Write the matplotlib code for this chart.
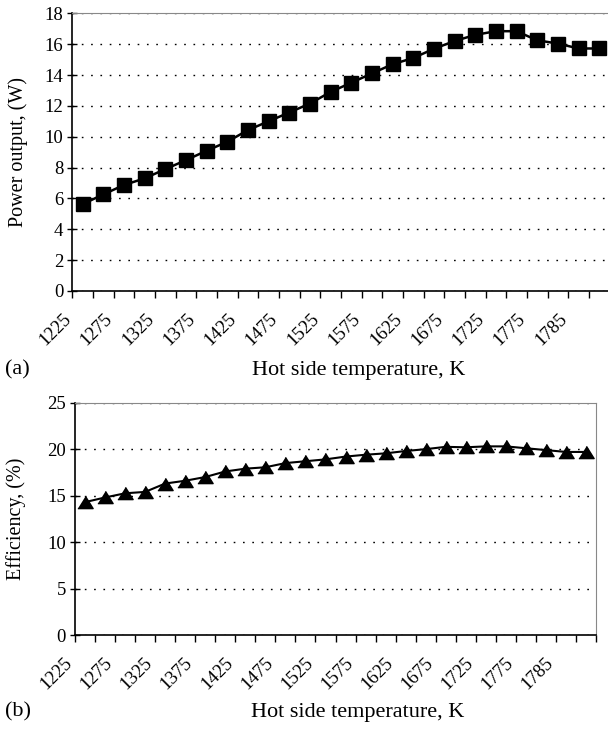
import matplotlib
matplotlib.use("Agg")
import matplotlib.pyplot as plt
import matplotlib.transforms as mtransforms
import numpy as np

plt.rcParams['font.family'] = ['Liberation Serif', 'DejaVu Serif']

# Data
temps = [1225, 1250, 1275, 1300, 1325, 1350, 1375, 1400, 1425, 1450, 1475, 1500, 1525,
         1550, 1575, 1600, 1625, 1650, 1675, 1700, 1725, 1750, 1775, 1780, 1785, 1790]
tick_labels = ["1225", "1275", "1325", "1375", "1425", "1475", "1525", "1575",
               "1625", "1675", "1725", "1775", "1785"]
power = [5.63, 6.26, 6.87, 7.3, 7.9, 8.48, 9.09, 9.67, 10.43, 11.0, 11.57, 12.15, 12.9,
         13.5, 14.1, 14.7, 15.1, 15.7, 16.2, 16.6, 16.84, 16.84, 16.25, 16.04, 15.72, 15.72]
efficiency = [14.3, 14.8, 15.25, 15.4, 16.3, 16.6, 17.0, 17.6, 17.9, 18.05, 18.5, 18.7, 18.9,
              19.2, 19.4, 19.55, 19.8, 20.0, 20.25, 20.2, 20.3, 20.3, 20.1, 19.9, 19.7, 19.7]

W, H = 608, 729
fig = plt.figure(figsize=(W / 100, H / 100), dpi=100)


def px_axes(left, right, top, bottom):
    return fig.add_axes([left / W, (H - bottom) / H, (right - left) / W, (bottom - top) / H])


ax1 = px_axes(72.3, 609.5, 13.3, 291)
ax2 = px_axes(75, 596, 402.7, 635)

n = len(temps)
x = np.arange(n)
tri = [(-1, -0.8), (1, -0.8), (0, 0.8)]


def style(ax, ymax, ystep, ylabel, ylab_x, label_dx):
    ax.set_xlim(-0.5, n - 0.5)
    ax.set_ylim(0, ymax)
    ax.set_yticks(np.arange(0, ymax + 0.001, ystep))
    ax.yaxis.grid(True, color='black', linestyle=(0, (1.2, 5.5)), linewidth=1.0)
    ax.set_axisbelow(True)
    ax.set_xticks(np.arange(-0.5, n, 1.0))
    ax.set_xticklabels([])
    ax.set_xticks(np.arange(0, n, 2), minor=True)
    ax.set_xticklabels(tick_labels, minor=True, rotation=45, ha='right', va='top',
                       fontsize=13.5)
    ax.tick_params(axis='x', which='major', direction='out', length=5, width=1)
    ax.tick_params(axis='x', which='minor', length=0, pad=14)
    ax.tick_params(axis='y', direction='inout', length=7, width=1, labelsize=13.5, pad=3)
    for lbl in ax.get_xticklabels(minor=True):
        lbl.set_transform(lbl.get_transform() +
                          mtransforms.ScaledTranslation(label_dx / 100, 0, fig.dpi_scale_trans))
    for s in ['left', 'bottom']:
        ax.spines[s].set_color('black')
        ax.spines[s].set_linewidth(1.2)
    for s in ['top', 'right']:
        ax.spines[s].set_color('#888888')
        ax.spines[s].set_linestyle((0, (1, 1)))
        ax.spines[s].set_linewidth(0.8)
    ax.set_ylabel(ylabel, fontsize=14.5)
    ax.yaxis.set_label_coords(ylab_x, 0.5)


ax1.plot(x, power, color='black', linewidth=1.8, marker='s', markersize=10,
         markerfacecolor='black', markeredgecolor='black', clip_on=False, zorder=3)
style(ax1, 18, 2, "Power output, (W)", (28 - 72.3) / 537.2, -8)

ax2.plot(x, efficiency, color='black', linewidth=1.5, marker=tri, markersize=11,
         markerfacecolor='black', markeredgecolor='black', clip_on=False, zorder=3)
style(ax2, 25, 5, "Efficiency, (%)", (26 - 75) / 521, -9)

fig.text(359 / W, 1 - 370 / H, "Hot side temperature, K", ha='center', va='center', fontsize=16)
fig.text(5 / W, 1 - 370 / H, "(a)", ha='left', va='center', fontsize=16)
fig.text(358 / W, 1 - 712 / H, "Hot side temperature, K", ha='center', va='center', fontsize=16)
fig.text(5 / W, 1 - 712 / H, "(b)", ha='left', va='center', fontsize=16)

fig.savefig("out.png", dpi=100)
